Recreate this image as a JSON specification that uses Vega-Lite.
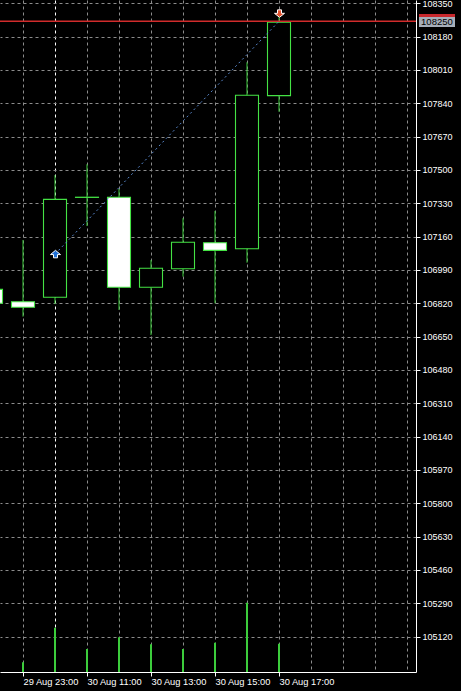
{
  "$schema": "https://vega.github.io/schema/vega-lite/v6.json",
  "width": 416,
  "height": 672,
  "autosize": {"type": "none"},
  "padding": {"left": 0, "top": 0, "right": 45, "bottom": 19},
  "background": "black",
  "config": {"view": {"stroke": null}, "font": "Liberation Sans", "scale": {"continuousPadding": 0}},
  "datasets": {
    "candles": [
      {"i": -1, "time": "29 Aug 22:00", "open": 106891, "high": 106915, "low": 106800, "close": 106820, "volume": 150},
      {"i": 0, "time": "29 Aug 23:00", "open": 106828, "high": 107143, "low": 106752, "close": 106800, "volume": 97},
      {"i": 1, "time": "30 Aug 10:00", "open": 106851, "high": 107474, "low": 106816, "close": 107350, "volume": 443},
      {"i": 2, "time": "30 Aug 11:00", "open": 107360, "high": 107529, "low": 107214, "close": 107361, "volume": 230},
      {"i": 3, "time": "30 Aug 12:00", "open": 107361, "high": 107403, "low": 106786, "close": 106902, "volume": 347},
      {"i": 4, "time": "30 Aug 13:00", "open": 106902, "high": 107041, "low": 106658, "close": 106999, "volume": 277},
      {"i": 5, "time": "30 Aug 14:00", "open": 106996, "high": 107254, "low": 106956, "close": 107131, "volume": 230},
      {"i": 6, "time": "30 Aug 15:00", "open": 107129, "high": 107291, "low": 106820, "close": 107090, "volume": 293},
      {"i": 7, "time": "30 Aug 16:00", "open": 107098, "high": 108049, "low": 107027, "close": 107881, "volume": 693},
      {"i": 8, "time": "30 Aug 17:00", "open": 107879, "high": 108279, "low": 107797, "close": 108253, "volume": 283}
    ],
    "trade": [
      {"i": 1, "price": 107071, "side": "buy"},
      {"i": 8, "price": 108258, "side": "sell"}
    ],
    "quote": [{"price": 108258, "label": "108250"}]
  },
  "resolve": {"scale": {"y": "independent"}},
  "layer": [
    {
      "data": {"name": "candles"},
      "mark": {"type": "bar", "size": 2, "color": "#3ccd3c"},
      "encoding": {
        "x": {
          "field": "i", "type": "quantitative",
          "scale": {"domain": [-0.71875, 12.28125], "nice": false, "zero": false},
          "axis": {
            "orient": "bottom", "title": null,
            "values": [0, 1, 2, 3, 4, 5, 6, 7, 8, 9, 10, 11, 12],
            "tickCount": 40,
            "domainColor": "white", "domainWidth": 1,
            "tickColor": "white", "tickSize": 4,
            "tickOpacity": {"condition": {"test": "datum.value % 2 === 0 && datum.value <= 8", "value": 1}, "value": 0},
            "grid": true,
            "gridColor": {"condition": {"test": "datum.value === 1", "value": "#ffffff"}, "value": "#8c8c8c"},
            "gridDash": [3, 3],
            "labelExpr": "datum.value === 0 ? '29 Aug 23:00' : datum.value === 2 ? '30 Aug 11:00' : datum.value === 4 ? '30 Aug 13:00' : datum.value === 6 ? '30 Aug 15:00' : datum.value === 8 ? '30 Aug 17:00' : ''",
            "labelAlign": "left", "labelBaseline": "alphabetic",
            "labelPadding": 8, "labelColor": "white", "labelFontSize": 9.3,
            "labelFlush": false, "labelOverlap": false, "labelBound": false
          }
        },
        "y": {"field": "volume", "type": "quantitative", "scale": {"domain": [0, 6720], "nice": false}, "axis": null}
      }
    },
    {
      "layer": [
        {
          "data": {"name": "candles"},
          "mark": {"type": "rule", "color": "#3ccd3c", "strokeWidth": 1},
          "encoding": {
            "x": {"field": "i", "type": "quantitative", "scale": {"domain": [-0.71875, 12.28125], "nice": false, "zero": false}},
            "y": {
              "field": "low", "type": "quantitative",
              "scale": {"domain": [104939.5, 108366.8], "nice": false, "zero": false},
              "axis": {
                "orient": "right", "title": null, "format": "d",
                "values": [105120, 105290, 105460, 105630, 105800, 105970, 106140, 106310, 106480, 106650, 106820, 106990, 107160, 107330, 107500, 107670, 107840, 108010, 108180, 108350],
                "tickCount": 40,
                "domainColor": "white", "domainWidth": 1,
                "tickColor": "white", "tickSize": 4,
                "grid": true, "gridColor": "#8c8c8c", "gridDash": [3, 3],
                "labelColor": "white", "labelFontSize": 9, "labelPadding": 2,
                "labelAlign": "left", "labelBaseline": "middle",
                "labelFlush": false, "labelOverlap": false, "labelBound": false
              }
            },
            "y2": {"field": "high"}
          }
        },
        {
          "data": {"name": "candles"},
          "mark": {"type": "bar", "size": 23, "stroke": "#44e244", "strokeWidth": 1.1},
          "encoding": {
            "x": {"field": "i", "type": "quantitative", "scale": {"domain": [-0.71875, 12.28125], "nice": false, "zero": false}},
            "y": {"field": "open", "type": "quantitative", "scale": {"domain": [104939.5, 108366.8], "nice": false, "zero": false}},
            "y2": {"field": "close"},
            "fill": {"condition": {"test": "datum.close < datum.open", "value": "#ffffff"}, "value": "#000000"}
          }
        },
        {
          "data": {"name": "quote"},
          "mark": {"type": "rule", "color": "#d22c2c", "strokeWidth": 1.5},
          "encoding": {
            "y": {"field": "price", "type": "quantitative", "scale": {"domain": [104939.5, 108366.8], "nice": false, "zero": false}}
          }
        },
        {
          "data": {"name": "trade"},
          "mark": {"type": "line", "color": "#5a8ad0", "strokeWidth": 1, "strokeDash": [2, 3]},
          "encoding": {
            "x": {"field": "i", "type": "quantitative", "scale": {"domain": [-0.71875, 12.28125], "nice": false, "zero": false}},
            "y": {"field": "price", "type": "quantitative", "scale": {"domain": [104939.5, 108366.8], "nice": false, "zero": false}}
          }
        },
        {
          "data": {"name": "trade"},
          "mark": {"type": "point", "filled": true, "stroke": "white", "strokeWidth": 1, "opacity": 1, "size": 100, "xOffset": 0.5},
          "encoding": {
            "x": {"field": "i", "type": "quantitative", "scale": {"domain": [-0.71875, 12.28125], "nice": false, "zero": false}},
            "y": {"field": "price", "type": "quantitative", "scale": {"domain": [104939.5, 108366.8], "nice": false, "zero": false}},
            "shape": {
              "field": "side", "type": "nominal", "legend": null,
              "scale": {"domain": ["buy", "sell"], "range": ["M0,-0.75L1,0.1L0.4,0.1L0.4,0.75L-0.4,0.75L-0.4,0.1L-1,0.1Z", "M0,-0.8L-1,-1.6L-0.4,-1.6L-0.4,-2.3L0.4,-2.3L0.4,-1.6L1,-1.6Z"]}
            },
            "fill": {"field": "side", "type": "nominal", "legend": null, "scale": {"domain": ["buy", "sell"], "range": ["#1f6fd6", "#e2502c"]}}
          }
        },
        {
          "data": {"name": "quote"},
          "mark": {"type": "rect", "color": "#a6aeb9"},
          "encoding": {
            "x": {"datum": 12.375, "type": "quantitative", "scale": {"domain": [-0.71875, 12.28125], "nice": false, "zero": false}},
            "x2": {"datum": 13.5},
            "y": {"datum": 108229, "type": "quantitative", "scale": {"domain": [104939.5, 108366.8], "nice": false, "zero": false}},
            "y2": {"datum": 108295}
          }
        },
        {
          "data": {"name": "quote"},
          "mark": {"type": "rect", "color": "#c8282d"},
          "encoding": {
            "x": {"datum": 12.375, "type": "quantitative", "scale": {"domain": [-0.71875, 12.28125], "nice": false, "zero": false}},
            "x2": {"datum": 13.5},
            "y": {"datum": 108280, "type": "quantitative", "scale": {"domain": [104939.5, 108366.8], "nice": false, "zero": false}},
            "y2": {"datum": 108295}
          }
        },
        {
          "data": {"name": "quote"},
          "mark": {"type": "text", "align": "left", "baseline": "middle", "color": "black", "fontSize": 9.5, "dy": 1},
          "encoding": {
            "x": {"datum": 12.44, "type": "quantitative", "scale": {"domain": [-0.71875, 12.28125], "nice": false, "zero": false}},
            "y": {"field": "price", "type": "quantitative", "scale": {"domain": [104939.5, 108366.8], "nice": false, "zero": false}},
            "text": {"field": "label"}
          }
        }
      ]
    }
  ]
}
